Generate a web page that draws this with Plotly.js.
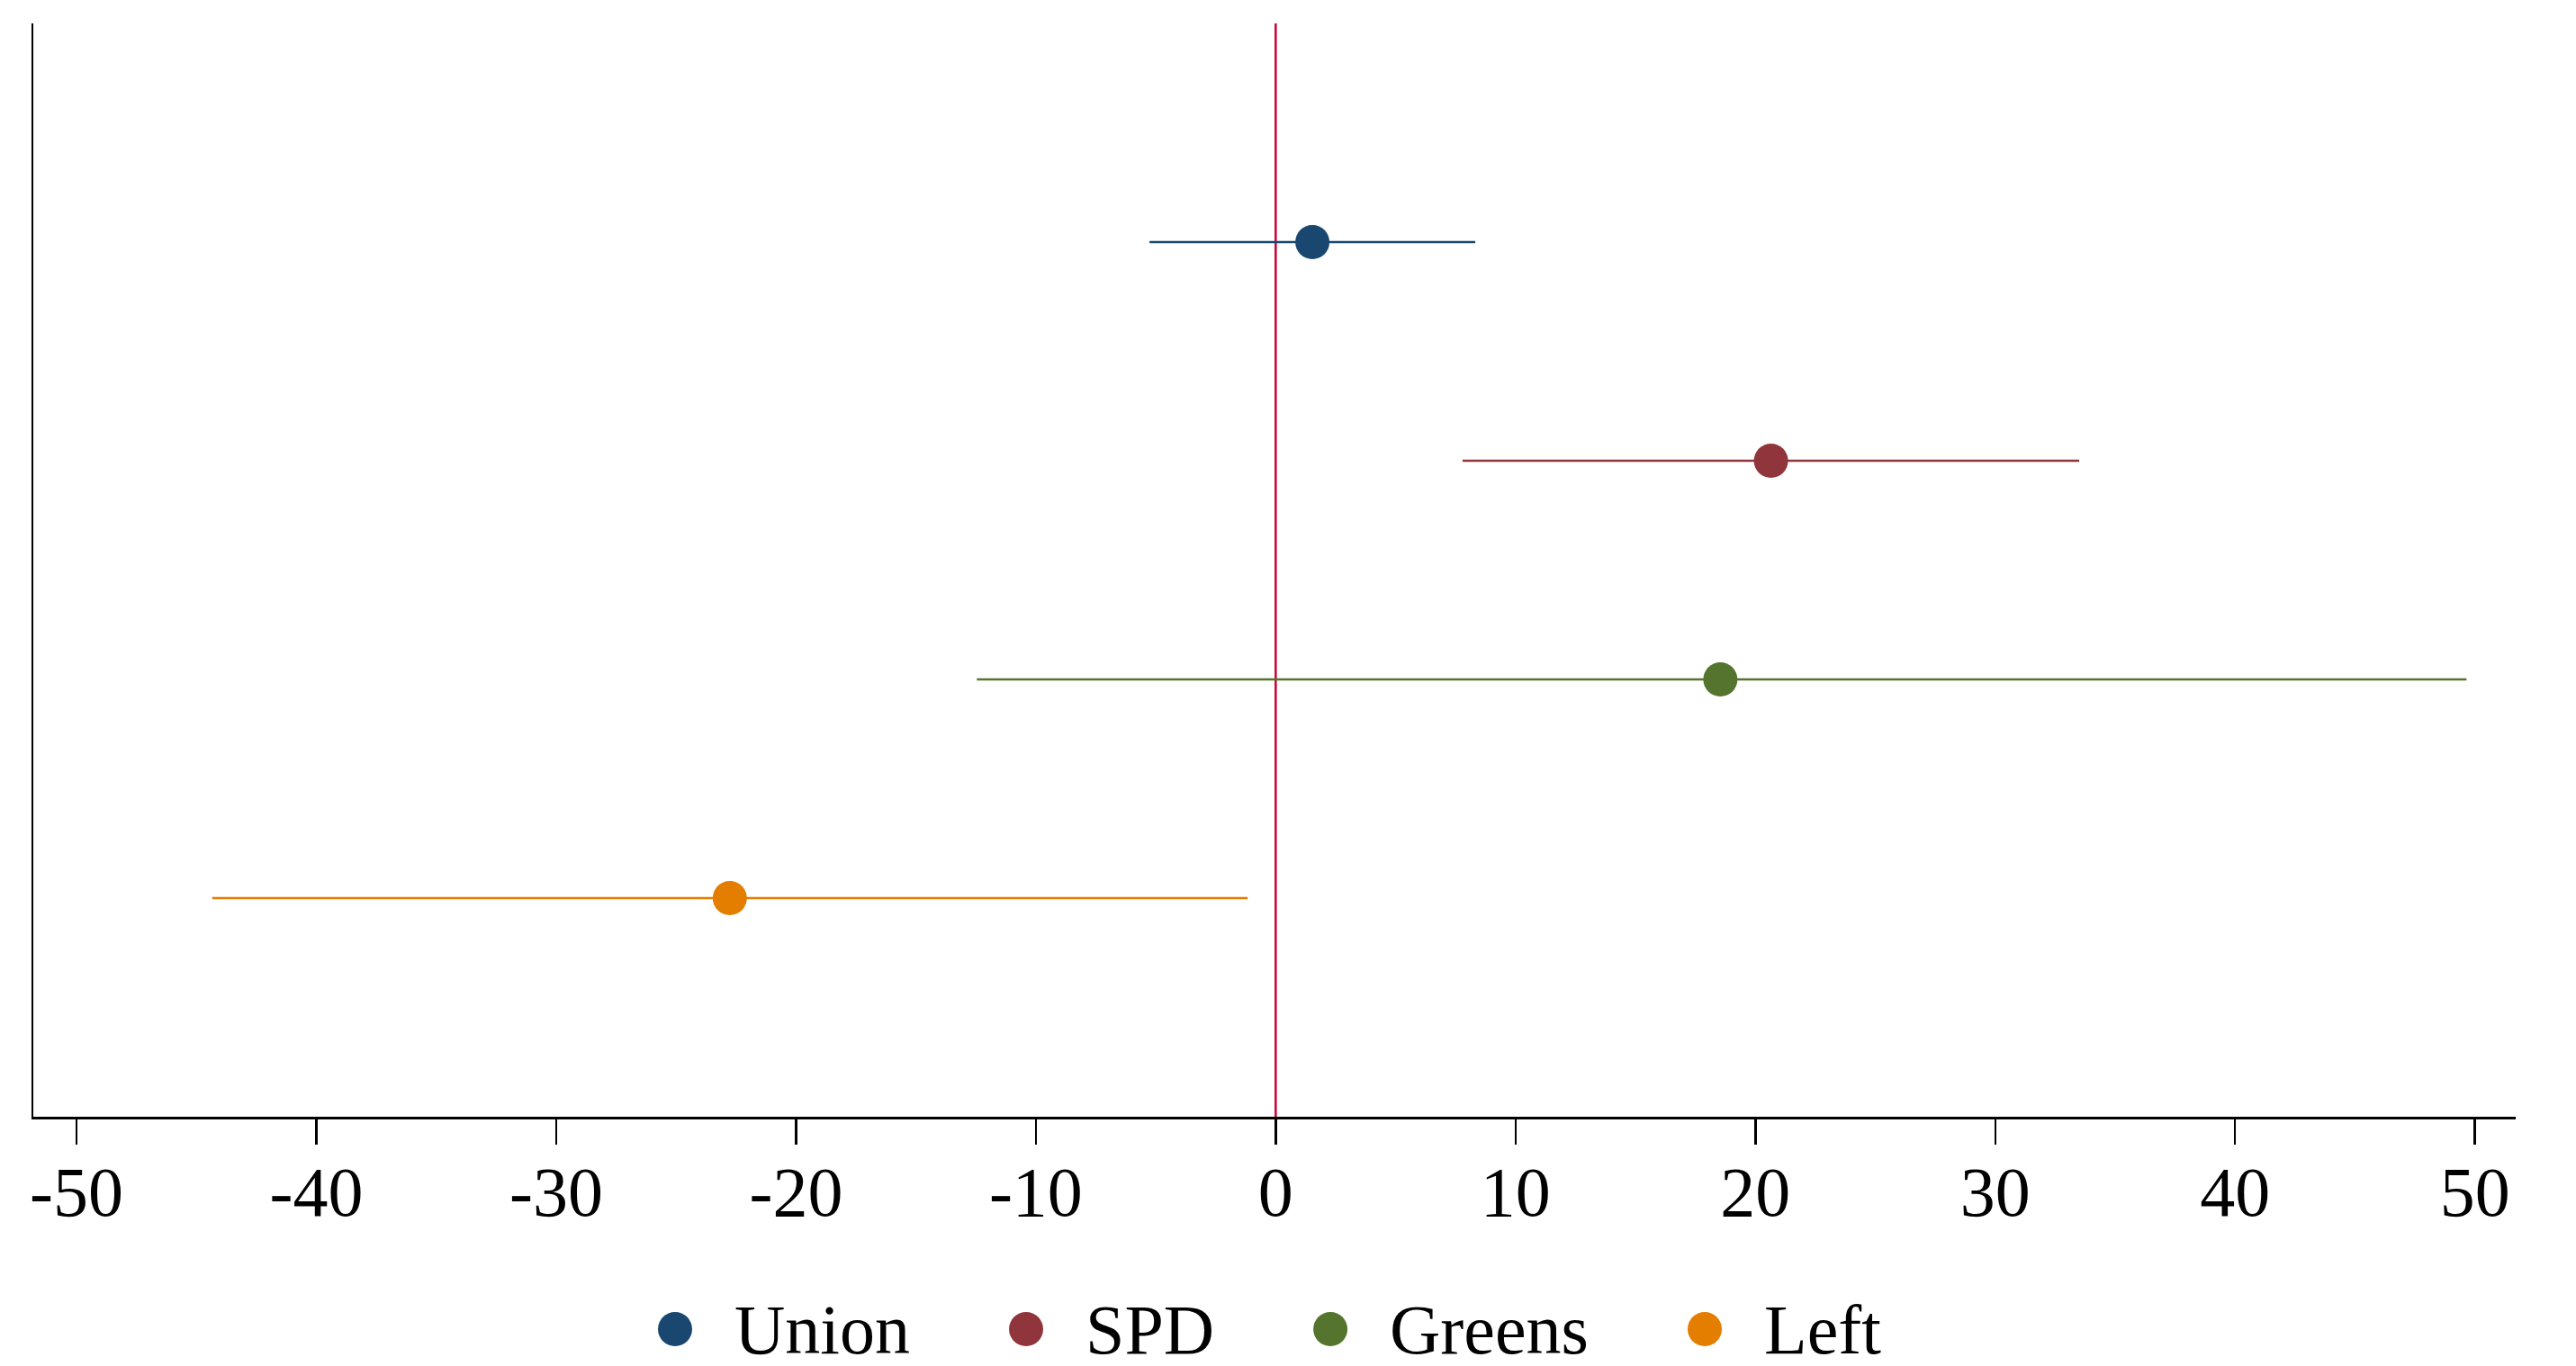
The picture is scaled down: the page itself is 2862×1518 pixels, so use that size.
<!DOCTYPE html>
<html>
<head>
<meta charset="utf-8">
<script src="https://cdn.plot.ly/plotly-3.0.1.min.js"></script>
<style>html,body{margin:0;padding:0;background:#fff;}#chart{width:2862px;height:1518px;}</style>
</head>
<body>
<div id="chart"></div>
<script>
// ---- data ----
var parties   = ["Union", "SPD", "Greens", "Left"];
var estimates = [1.53, 20.65, 18.54, -22.76];
var lowerCI   = [-5.26, 7.79, -12.46, -44.34];
var upperCI   = [8.32, 33.5, 49.65, -1.17];
var colors    = ["#1a476f", "#90353b", "#55752f", "#e37e00"];
var tickVals  = [-50, -40, -30, -20, -10, 0, 10, 20, 30, 40, 50];
var tickText  = ["-50", "-40", "-30", "-20", "-10", "0", "10", "20", "30", "40", "50"];
var refValue  = 0;

var FONT = "Liberation Serif, Times New Roman, serif";
var FS = 78;

var traces = parties.map(function (p, i) {
  return {
    type: "scatter",
    mode: "markers",
    name: p,
    x: [estimates[i]],
    y: [p],
    marker: { color: colors[i], size: 38 },
    error_x: {
      type: "data", symmetric: false,
      array: [upperCI[i] - estimates[i]],
      arrayminus: [estimates[i] - lowerCI[i]],
      color: colors[i], thickness: 2.5, width: 0
    },
    showlegend: false,
    hoverinfo: "skip"
  };
});

// plot area geometry (pixels)
var W = 2862, H = 1518, mL = 37, mR = 67, mT = 26, mB = 277;
var pw = W - mL - mR, ph = H - mT - mB;
function px2paperX(px) { return (px - mL) / pw; }
function px2paperY(py) { return (H - mB - py) / ph; }

// manual legend (large markers like the reference)
var ctx = document.createElement("canvas").getContext("2d");
ctx.font = FS + "px 'Liberation Serif'";
var shapes = [{
  type: "line", xref: "x", yref: "paper", x0: refValue, x1: refValue, y0: 0, y1: 1,
  line: { color: "#c80032", width: 2.5 }, layer: "below"
}];
var annotations = [];
var legY = 1477, mk = 38, gapText = 64, gapNext = 131;
var cx = 750;
parties.forEach(function (p, i) {
  shapes.push({
    type: "circle", xref: "paper", yref: "paper",
    xsizemode: "pixel", ysizemode: "pixel",
    xanchor: px2paperX(cx), yanchor: px2paperY(legY),
    x0: -mk / 2, x1: mk / 2, y0: -mk / 2, y1: mk / 2,
    fillcolor: colors[i], line: { width: 0 }
  });
  var tx = cx + gapText;
  annotations.push({
    xref: "paper", yref: "paper", x: px2paperX(tx), y: px2paperY(legY),
    xanchor: "left", yanchor: "middle", showarrow: false, text: p,
    font: { family: FONT, size: FS, color: "#000" }
  });
  cx = tx + ctx.measureText(p).width + gapNext;
});

var layout = {
  width: W, height: H,
  margin: { l: mL, r: mR, t: mT, b: mB, pad: 0 },
  paper_bgcolor: "#fff", plot_bgcolor: "#fff",
  font: { family: FONT, size: FS, color: "#000" },
  showlegend: false,
  xaxis: {
    range: [-51.8, 51.7], tickvals: tickVals, ticktext: tickText,
    showgrid: false, zeroline: false, showline: true, linecolor: "#000", linewidth: 2.5,
    ticks: "outside", ticklen: 28, tickwidth: 2.5, tickcolor: "#000",
    tickfont: { family: FONT, size: FS, color: "#000" }, ticklabelstandoff: -14
  },
  yaxis: {
    type: "category", categoryorder: "array", categoryarray: parties.slice().reverse(),
    range: [-1, 4], showticklabels: false, ticks: "", showgrid: false, zeroline: false,
    showline: true, linecolor: "#000", linewidth: 2.5
  },
  shapes: shapes,
  annotations: annotations
};

Plotly.newPlot("chart", traces, layout, { staticPlot: true, displayModeBar: false });
</script>
</body>
</html>
